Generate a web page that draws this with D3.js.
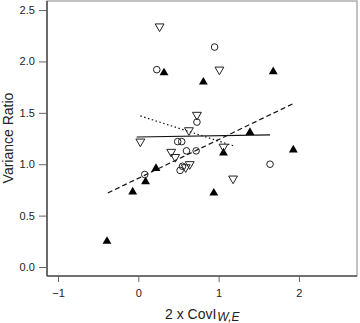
<!DOCTYPE html>
<html><head><meta charset="utf-8">
<script src="https://cdn.jsdelivr.net/npm/d3@7"></script>
<style>body{margin:0;background:#fff;}svg{display:block;font-family:"Liberation Sans",Arial,sans-serif;}</style>
</head><body>
<script>
const filledX = [-0.39, -0.07, 0.09, 0.22, 0.32, 0.81, 1.68, 1.39, 1.93, 1.06, 0.94];
const filledY = [0.25, 0.73, 0.83, 0.96, 1.89, 1.80, 1.90, 1.31, 1.14, 1.11, 0.72];
const circleX = [0.23, 0.95, 0.73, 0.49, 0.54, 0.60, 0.72, 0.52, 0.55, 0.08, 1.64];
const circleY = [1.92, 2.14, 1.41, 1.22, 1.22, 1.13, 1.13, 0.94, 0.98, 0.90, 1.00];
const downX = [0.265, 1.01, 0.73, 0.025, 0.63, 1.06, 0.41, 0.46, 0.64, 0.59, 1.18];
const downY = [2.34, 1.92, 1.48, 1.22, 1.33, 1.17, 1.12, 1.07, 1.00, 0.97, 0.86];
// fitted lines [x1, y1, x2, y2]
const dashedLine = [-0.38, 0.72, 1.93, 1.59];
const solidLine = [-0.02, 1.265, 1.64, 1.285];
const dottedLine = [0.025, 1.47, 1.18, 1.18];
const xTicks = [-1, 0, 1, 2];
const yTicks = [0.0, 0.5, 1.0, 1.5, 2.0, 2.5];

const W = 360, H = 323;
const svg = d3.select("body").append("svg").attr("width", W).attr("height", H);
const L = 47, R = 357, T = 1, B = 276;
const x = d3.scaleLinear().domain([-1.137, 2.723]).range([L, R]);
const y = d3.scaleLinear().domain([-0.0875, 2.588]).range([B, T]);

// box
svg.append("rect").attr("x", L).attr("y", T).attr("width", R - L).attr("height", B - T)
  .attr("fill", "none").attr("stroke", "#999").attr("stroke-width", 1.2);
svg.append("line").attr("x1", L).attr("x2", L).attr("y1", T).attr("y2", B).attr("stroke", "#555").attr("stroke-width", 1.6);
svg.append("line").attr("x1", L).attr("x2", R).attr("y1", B).attr("y2", B).attr("stroke", "#555").attr("stroke-width", 1.6);

const xAxis = svg.append("g").attr("transform", `translate(0,${B})`)
  .call(d3.axisBottom(x).tickValues(xTicks).tickFormat(d3.format("d")).tickSize(6).tickSizeOuter(0));
xAxis.select(".domain").remove();
xAxis.selectAll("line").attr("stroke", "#666");
xAxis.selectAll("text").attr("font-size", 11).attr("fill", "#222").attr("dy", "1.05em");

const yAxis = svg.append("g").attr("transform", `translate(${L},0)`)
  .call(d3.axisLeft(y).tickValues(yTicks).tickFormat(d3.format(".1f")).tickSize(8).tickSizeOuter(0));
yAxis.select(".domain").remove();
yAxis.selectAll("line").attr("stroke", "#666");
yAxis.selectAll("text").attr("font-size", 11).attr("fill", "#222").attr("dx", "-0.1em");

// titles
svg.append("text").attr("transform", "translate(13,138) rotate(-90)").attr("text-anchor", "middle")
  .attr("font-size", 14).attr("fill", "#222").text("Variance Ratio");
const xt = svg.append("text").attr("x", 165).attr("y", 319).attr("font-size", 14).attr("fill", "#222");
xt.append("tspan").text("2 x CovI");
xt.append("tspan").attr("dx", 1).attr("dy", 1.5).attr("font-size", 12).attr("font-style", "italic").text("W,E");

// lines
function drawLine(l, dash) {
  svg.append("line").attr("x1", x(l[0])).attr("y1", y(l[1])).attr("x2", x(l[2])).attr("y2", y(l[3]))
    .attr("stroke", "#111").attr("stroke-width", 1.2).attr("stroke-dasharray", dash);
}
drawLine(dashedLine, "5,3");
drawLine(solidLine, null);
drawLine(dottedLine, "1.5,2.5");

const tri = d3.symbol().type(d3.symbolTriangle).size(34);
svg.append("g").selectAll("path").data(filledX.map((d, i) => [d, filledY[i]])).join("path")
  .attr("d", tri).attr("transform", d => `translate(${x(d[0])},${y(d[1])})`).attr("fill", "#000");
svg.append("g").selectAll("circle").data(circleX.map((d, i) => [d, circleY[i]])).join("circle")
  .attr("cx", d => x(d[0])).attr("cy", d => y(d[1])).attr("r", 3.3)
  .attr("fill", "none").attr("stroke", "#222").attr("stroke-width", 1);
svg.append("g").selectAll("path").data(downX.map((d, i) => [d, downY[i]])).join("path")
  .attr("d", tri).attr("transform", d => `translate(${x(d[0])},${y(d[1])}) rotate(180)`)
  .attr("fill", "none").attr("stroke", "#222").attr("stroke-width", 1);
</script>
</body></html>
